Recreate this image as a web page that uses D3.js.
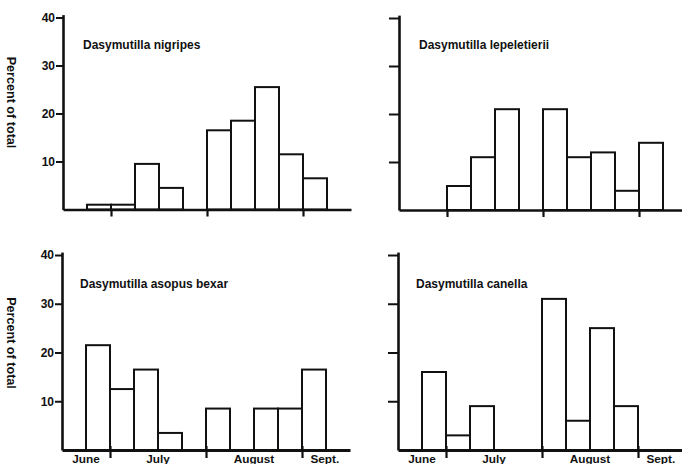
<!DOCTYPE html>
<html>
<head>
<meta charset="utf-8">
<script src="https://cdn.jsdelivr.net/npm/d3@7"></script>
<style>
  body { margin: 0; background: white; }
  svg { display: block; }
  text { font-family: "Liberation Sans", Arial, sans-serif; font-weight: bold; fill: #111; }
</style>
</head>
<body>
<script>
// weekly bins, 0 = first week on the axis
var bins = [0, 1, 2, 3, 4, 5, 6, 7, 8, 9, 10]

// percent of total per week
var nigripes     = [0, 1, 1, 9.5, 4.5, 0, 16.5, 18.5, 25.5, 11.5, 6.5]
var lepeletierii = [0, 0, 5, 11, 21, 0, 21, 11, 12, 4, 14]
var asopusBexar  = [0, 21.5, 12.5, 16.5, 3.5, 0, 8.5, 0, 8.5, 8.5, 16.5]
var canella      = [0, 16, 3, 9, 0, 0, 31, 6, 25, 9, 0]

var names = ["Dasymutilla nigripes", "Dasymutilla lepeletierii",
             "Dasymutilla asopus bexar", "Dasymutilla canella"]

var yTicks = [10, 20, 30, 40]
var monthBreaks = [2, 6, 10]
var months = ["June", "July", "August", "Sept."]
var monthPos = [1, 4, 8, 10.95]

var width = 682, height = 464

var svg = d3.select("body").append("svg")
    .attr("width", width)
    .attr("height", height)

// panel frames: left edge of axis, baseline, px per 10 %
var panels = [
    {values: nigripes,     name: names[0], x0: 63,  base: 209.5, unit: 4.8,   labels: true,  bottom: false},
    {values: lepeletierii, name: names[1], x0: 399, base: 210,   unit: 4.8,   labels: false, bottom: false},
    {values: asopusBexar,  name: names[2], x0: 62,  base: 450,   unit: 4.875, labels: true,  bottom: true},
    {values: canella,      name: names[3], x0: 398, base: 450,   unit: 4.875, labels: false, bottom: true}
]

panels.forEach(function(p) {
    var xScale = d3.scaleLinear()
        .domain([0, 12])
        .range([p.x0, p.x0 + 24 * 12])
    var yScale = d3.scaleLinear()
        .domain([0, 40.6])
        .range([p.base, p.base - 40.6 * p.unit])

    var g = svg.append("g")

    // bars
    var data = bins.map(function(b, i) { return {bin: b, v: p.values[i]} })
        .filter(function(d) { return d.v > 0 })
    g.selectAll("rect")
        .data(data)
        .enter()
        .append("rect")
        .attr("x", function(d) { return xScale(d.bin) })
        .attr("y", function(d) { return yScale(d.v) })
        .attr("width", function(d) { return xScale(d.bin + 1) - xScale(d.bin) })
        .attr("height", function(d) { return yScale(0) - yScale(d.v) })
        .attr("fill", "white")
        .attr("stroke", "#111")
        .attr("stroke-width", 2)

    // y axis
    var yAxis = d3.axisLeft(yScale)
        .tickValues(yTicks)
        .tickSize(p.labels ? 7 : 10)
        .tickSizeOuter(0)
        .tickPadding(1)
        .tickFormat(p.labels ? d3.format("d") : function() { return "" })
    var ya = g.append("g")
        .attr("transform", "translate(" + p.x0 + ",0)")
        .call(yAxis)
    ya.select(".domain").attr("stroke", "#111").attr("stroke-width", 2.6)
    ya.selectAll(".tick line").attr("stroke", "#111").attr("stroke-width", 2)
    ya.selectAll(".tick text")
        .style("font-size", "12px")
        .attr("fill", "#111")
        .style("font-family", "'Liberation Sans', Arial, sans-serif")
        .style("font-weight", "bold")

    // x axis with month breaks
    var xAxis = d3.axisBottom(xScale)
        .tickValues(monthBreaks)
        .tickSize(p.bottom ? 8 : 7)
        .tickSizeOuter(0)
        .tickFormat("")
    var xa = g.append("g")
        .attr("transform", "translate(0," + p.base + ")")
        .call(xAxis)
    xa.select(".domain").attr("stroke", "#111").attr("stroke-width", p.bottom ? 3 : 2.6)
    xa.selectAll(".tick line").attr("stroke", "#111").attr("stroke-width", 2.2)
    if (p.bottom) {
        xa.selectAll(".tick line").attr("y1", -4)
        g.selectAll(".month")
            .data(months)
            .enter()
            .append("text")
            .attr("class", "month")
            .attr("x", function(d, i) { return xScale(monthPos[i]) })
            .attr("y", 462.5)
            .attr("text-anchor", "middle")
            .style("font-size", "11.8px")
            .text(function(d) { return d })
    }

    // species name
    g.append("text")
        .attr("x", xScale(0) + (p.bottom ? 18 : 20))
        .attr("y", p.base - (p.bottom ? 162 : 161))
        .style("font-size", "12px")
        .text(p.name)

    // y label
    if (p.labels) {
        g.append("text")
            .attr("transform", "translate(7," + (p.base - 107) + ") rotate(90)")
            .attr("text-anchor", "middle")
            .style("font-size", "12.6px")
            .text("Percent of total")
    }
})
</script>
</body>
</html>
